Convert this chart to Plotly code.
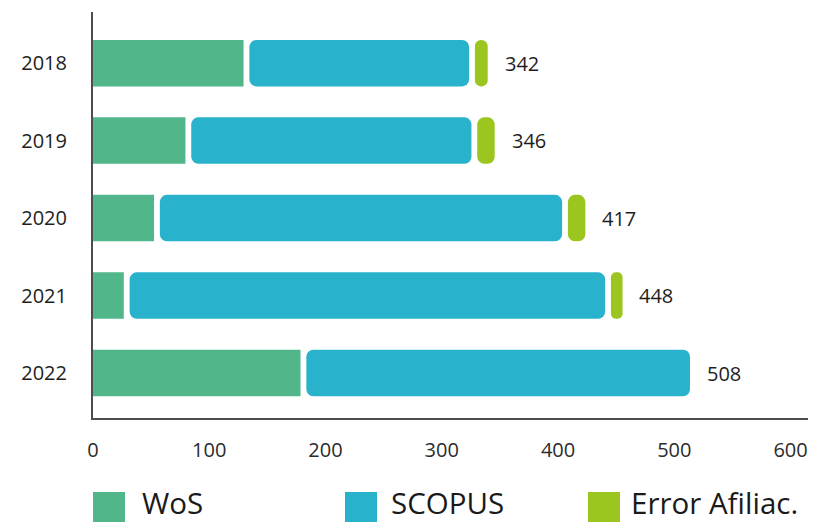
import numpy as np
import plotly.graph_objects as go

# ---------------- data ----------------
years = ["2018", "2019", "2020", "2021", "2022"]
wos = [132, 82, 55, 29, 181]
scopus = [194, 246, 351, 414, 335]
error_afiliac = [16, 20, 20, 15, 0]
totals = [342, 346, 417, 448, 508]          # printed labels
series_names = ["WoS", "SCOPUS", "Error Afiliac."]
x_ticks = [0, 100, 200, 300, 400, 500, 600]

# ---------------- style ----------------
COLORS = ["#52B68B", "#29B2CB", "#9BC51F"]
FONT = "Open Sans"
GAP = 5.0          # visual gap between stacked segments (axis units)
RADIUS = 7

OFF = 8            # page body margin offset
W, H = 816 - OFF, 522 - OFF
ML, MR, MT, MB = 85, 8, 4, 104
PW, PH = W - ML - MR, H - MT - MB


def px_x(p):
    """page pixel -> paper x"""
    return (p - OFF - ML) / PW


def px_y(p):
    """page pixel -> paper y"""
    return (MT + PH - (p - OFF)) / PH


fig = go.Figure()

vals = [np.array(v, float) for v in (wos, scopus, error_afiliac)]
starts = [np.zeros(len(years)), vals[0], vals[0] + vals[1]]
bar_end = vals[0] + vals[1] + vals[2]

for i, (name, color) in enumerate(zip(series_names, COLORS)):
    start = starts[i]
    end = start + vals[i]
    d_start = np.where(start > 0, start + GAP / 2, start)
    d_end = end - GAP / 2
    length = d_end - d_start
    length = np.where(length > 0, length, np.nan)
    bar_kw = dict(y=years, x=length, orientation="h", name=name,
                  marker=dict(color=color, line=dict(width=0),
                              cornerradius=RADIUS),
                  showlegend=False, hoverinfo="skip")
    if i == 0:
        fig.add_trace(go.Bar(**bar_kw))
    else:
        fig.add_trace(go.Bar(base=d_start, **bar_kw))

# total labels, placed just past the end of each bar
for idx, (tot, be) in enumerate(zip(totals, bar_end)):
    fig.add_annotation(x=be, y=idx, xref="x", yref="y", text=str(tot),
                       showarrow=False, xanchor="left", yanchor="middle",
                       xshift=12,
                       font=dict(family=FONT, size=20, color="#1e1e1e"))

# manual legend
sq_left = [93, 345, 588]
txt_left = [143, 392, 632]
for name, color, sl, tl in zip(series_names, COLORS, sq_left, txt_left):
    fig.add_shape(type="rect", xref="paper", yref="paper",
                  x0=px_x(sl), x1=px_x(sl + 32), y0=px_y(492), y1=px_y(540),
                  fillcolor=color, line=dict(width=0))
    fig.add_annotation(xref="paper", yref="paper", x=px_x(tl - 3), y=px_y(502),
                       text=name, showarrow=False, xanchor="left",
                       yanchor="middle",
                       font=dict(family=FONT, size=29.5, color="#1a1a1a"))

fig.update_layout(
    width=W, height=H,
    margin=dict(l=ML, r=MR, t=MT, b=MB, pad=0),
    paper_bgcolor="white", plot_bgcolor="white",
    barmode="overlay", bargap=0.4,
    showlegend=False,
    font=dict(family=FONT, size=20, color="#333333"),
    xaxis=dict(range=[0, 615], tickvals=x_ticks, ticks="", automargin=False,
               showline=True, linecolor="#4d4d4d", linewidth=2,
               showgrid=False, zeroline=False, ticklabelstandoff=13,
               tickfont=dict(family=FONT, size=20, color="#2b2b2b")),
    yaxis=dict(type="category", categoryorder="array", categoryarray=years,
               range=[4.58, -0.66], ticks="", automargin=False,
               showline=True, linecolor="#4d4d4d", linewidth=2,
               showgrid=False, zeroline=False, ticklabelstandoff=20,
               tickfont=dict(family=FONT, size=20, color="#1e1e1e")),
)

fig.write_html("out.html")
